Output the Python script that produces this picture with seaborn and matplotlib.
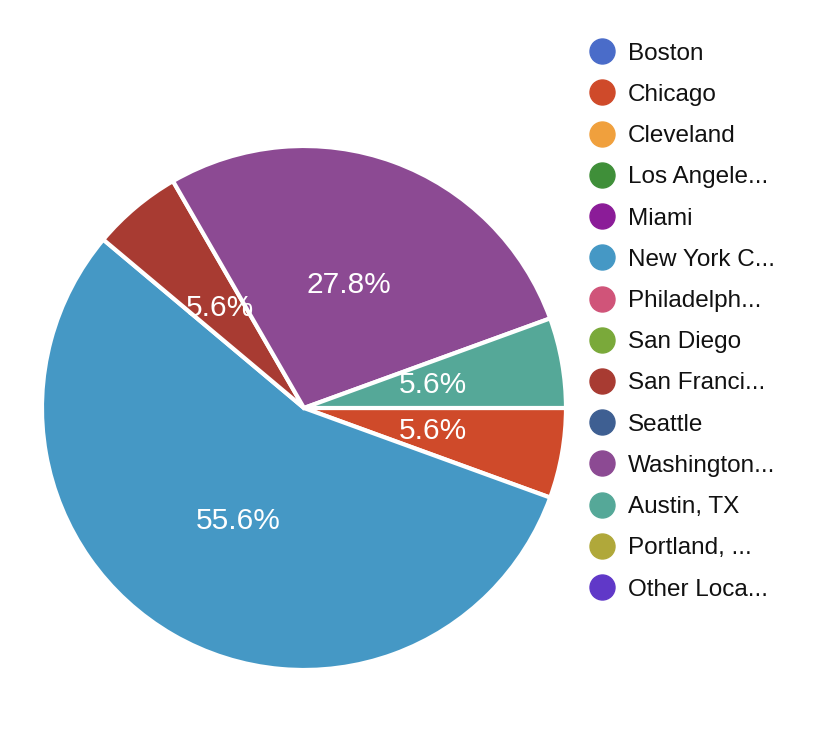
import matplotlib
matplotlib.use("Agg")
import matplotlib.pyplot as plt
from matplotlib.lines import Line2D
import seaborn as sns

# Legend categories (truncated as in the source) and counts
cities = ["Boston", "Chicago", "Cleveland", "Los Angele...", "Miami",
          "New York C...", "Philadelph...", "San Diego", "San Franci...",
          "Seattle", "Washington...", "Austin, TX", "Portland, ...",
          "Other Loca..."]
counts = [0, 1, 0, 0, 0, 10, 0, 0, 1, 0, 5, 1, 0, 0]
colors = ["#4a6cc9", "#cf4a2a", "#f0a03d", "#3f8f39", "#8b1c98",
          "#4598c5", "#d05479", "#7aa93a", "#a83b32", "#3e5f92",
          "#8c4a93", "#55a898", "#b0a83a", "#6038c8"]

sns.set_theme(style="white")
plt.rcParams['font.family'] = ['Liberation Sans', 'DejaVu Sans']
palette = sns.color_palette(colors)

fig = plt.figure(figsize=(8.31, 7.34), dpi=100)
ax = fig.add_axes([0.0505, 0.0872, 0.6306, 0.7139])

# only slices with a value get drawn
vals = [v for v in counts if v > 0]
cols = [palette[i] for i, v in enumerate(counts) if v > 0]

wedges, texts, autotexts = ax.pie(
    vals, colors=cols, startangle=0, counterclock=False, radius=1,
    autopct='%1.1f%%', pctdistance=0.5,
    wedgeprops=dict(edgecolor='white', linewidth=3),
    textprops=dict(color='white', fontsize=21.5))
ax.set_xlim(-1, 1)
ax.set_ylim(-1, 1)
ax.set_aspect('equal')

handles = [Line2D([0], [0], marker='o', linestyle='', markersize=18,
                  markerfacecolor=palette[i], markeredgecolor=palette[i])
           for i in range(len(cities))]
leg = fig.legend(handles, cities, loc='upper left', bbox_to_anchor=(0.695, 0.955),
                 frameon=False, fontsize=17.5, labelspacing=0.79,
                 handletextpad=0.48, handlelength=1.2, borderaxespad=0)
for t in leg.get_texts():
    t.set_color('#111111')

fig.savefig("out.png", dpi=100)
